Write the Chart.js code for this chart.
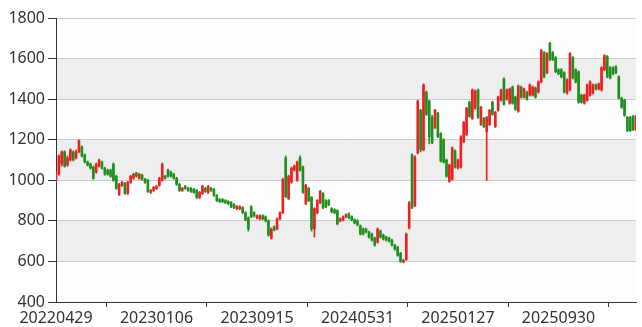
<!DOCTYPE html>
<html>
<head>
<meta charset="utf-8">
<script src="https://cdn.jsdelivr.net/npm/chart.js@4/dist/chart.umd.min.js"></script>
<style>
  html, body { margin: 0; padding: 0; background: #fff; }
  #wrap { width: 642px; height: 327px; }
</style>
</head>
<body>
<div id="wrap"><canvas id="kChart"></canvas></div>
<script>
// weekly bars, last trading day of each week
const dates = [
  '20220429','20220506','20220513','20220520','20220527','20220602','20220610','20220617','20220624','20220701',
  '20220708','20220715','20220722','20220729','20220805','20220812','20220819','20220826','20220902','20220909',
  '20220916','20220923','20220930','20221014','20221021','20221028','20221104','20221111','20221118','20221125',
  '20221202','20221209','20221216','20221223','20221230','20230106','20230113','20230120','20230203','20230210',
  '20230217','20230224','20230303','20230310','20230317','20230324','20230331','20230407','20230414','20230421',
  '20230428','20230505','20230512','20230519','20230526','20230602','20230609','20230616','20230621','20230630',
  '20230707','20230714','20230721','20230728','20230804','20230811','20230818','20230825','20230901','20230908',
  '20230915','20230922','20230928','20231013','20231020','20231027','20231103','20231110','20231117','20231124',
  '20231201','20231208','20231215','20231222','20231229','20240105','20240112','20240119','20240126','20240202',
  '20240208','20240223','20240301','20240308','20240315','20240322','20240329','20240403','20240412','20240419',
  '20240426','20240430','20240510','20240517','20240524','20240531','20240607','20240614','20240621','20240628',
  '20240705','20240712','20240719','20240726','20240802','20240809','20240816','20240823','20240830','20240906',
  '20240913','20240920','20240927','20240930','20241011','20241018','20241025','20241101','20241108','20241115',
  '20241122','20241129','20241206','20241213','20241220','20241227','20250103','20250110','20250117','20250124',
  '20250127','20250207','20250214','20250221','20250228','20250307','20250314','20250321','20250328','20250403',
  '20250411','20250418','20250425','20250430','20250509','20250516','20250523','20250530','20250606','20250613',
  '20250620','20250627','20250704','20250711','20250718','20250725','20250801','20250808','20250815','20250822',
  '20250829','20250905','20250912','20250919','20250926','20250930','20251010','20251017','20251024','20251031',
  '20251107','20251114','20251121','20251128','20251205','20251212','20251219','20251226','20251231','20260109',
  '20260116','20260123','20260130','20260206','20260213','20260227','20260306','20260313','20260320','20260327',
  '20260403','20260410','20260417'
];

const opens = [
  998,1030,1080,1140,1075,1100,1140,1110,1140,1165, 1125,1090,1080,1065,1040,1070,1090,1060,1050,1050,
  1080,1020,930,975,985,935,990,1010,1035,1010, 1025,1005,1000,940,950,960,975,1000,1020,1050,
  1040,1030,1010,980,950,970,960,960,955,950, 915,935,960,940,960,955,925,905,905,900,
  895,890,880,860,860,865,840,815,870,840, 815,810,825,820,800,715,770,760,810,840,
  1110,910,990,1050,1000,1110,1065,885,960,915, 760,840,890,935,900,900,860,855,850,800,
  805,820,835,820,805,800,775,760,760,745, 735,715,695,750,730,720,715,705,680,670,
  640,598,610,765,1125,875,1135,1345,1150,1435, 1390,1310,1260,1330,1230,1200,1100,995,1005,1145,
  1060,1065,1190,1225,1385,1305,1355,1445,1275,1305, 1240,1275,1385,1265,1345,1395,1500,1400,1380,1460,
  1410,1340,1460,1410,1435,1420,1420,1455,1435,1485, 1630,1530,1675,1630,1605,1545,1545,1530,1430,1445,
  1605,1545,1535,1420,1380,1395,1420,1430,1470,1450, 1445,1545,1610,1555,1555,1560,1510,1405,1395,1310,
  1310,1315,1250
];
const closes = [
  1040,1120,1140,1070,1110,1150,1100,1140,1195,1120, 1090,1075,1060,1010,1080,1100,1060,1030,1030,1020,
  1000,960,980,990,935,990,1020,1030,1020,1030, 1005,990,945,950,965,970,1010,1080,1010,1020,
  1020,1010,980,950,960,960,950,945,940,915, 940,970,945,970,950,925,900,895,895,890,
  885,870,865,870,870,840,805,760,820,825, 825,825,810,800,730,760,755,810,840,1005,
  920,1020,1060,1070,1090,1050,940,975,900,760, 860,900,945,865,870,880,845,840,785,810,
  820,830,815,805,790,780,735,735,745,720, 705,680,760,720,710,705,700,680,660,630,
  600,605,735,890,865,1115,1390,1150,1470,1325, 1215,1185,1345,1215,1095,1090,1020,1075,1160,1065,
  1100,1215,1285,1355,1315,1445,1440,1310,1360,1265, 1310,1345,1325,1335,1410,1445,1375,1445,1450,1380,
  1350,1465,1410,1450,1400,1470,1460,1410,1485,1640, 1510,1625,1595,1595,1535,1525,1510,1435,1495,1625,
  1505,1485,1385,1385,1420,1470,1485,1470,1450,1475, 1555,1615,1510,1505,1525,1530,1405,1360,1320,1245,
  1245,1250,1315
];
const lows = [
  990,1025,1070,1065,1070,1095,1095,1105,1135,1115, 1085,1070,1055,1005,1035,1065,1055,1025,1025,1015,
  995,955,925,970,930,930,985,1005,1015,1005, 1000,985,940,935,945,955,970,995,1005,1015,
  1015,1005,975,945,945,955,945,940,935,910, 910,930,940,935,945,920,895,890,890,885,
  880,865,860,855,855,835,800,750,815,820, 810,805,805,795,725,710,750,755,805,835,
  915,905,985,1045,995,1045,935,880,895,750, 720,835,885,860,865,875,840,835,780,795,
  800,815,810,800,785,775,730,730,740,715, 700,675,690,715,705,700,695,675,655,625,
  595,593,605,760,860,870,1130,1140,1145,1320, 1180,1180,1255,1210,1090,1085,1015,990,1000,1060,
  1055,1060,1185,1220,1310,1300,1350,1305,1270,1260, 1000,1270,1320,1260,1340,1390,1370,1395,1375,1375,
  1345,1335,1405,1405,1395,1415,1415,1405,1430,1480, 1505,1525,1590,1590,1530,1520,1505,1430,1425,1440,
  1500,1480,1380,1380,1375,1390,1415,1425,1445,1445, 1440,1540,1505,1500,1520,1525,1400,1355,1315,1240,
  1240,1245,1245
];
const highs = [
  1045,1125,1145,1145,1120,1155,1145,1150,1200,1170, 1130,1095,1085,1070,1085,1105,1095,1065,1055,1055,
  1085,1025,985,995,990,995,1025,1035,1040,1035, 1030,1010,1005,955,970,975,1015,1085,1025,1055,
  1045,1035,1015,985,965,975,965,965,960,955, 945,975,965,975,965,960,930,910,910,905,
  900,895,885,875,875,870,845,820,875,845, 830,830,830,825,805,765,775,815,845,1010,
  1120,1025,1065,1075,1095,1120,1070,980,965,920, 865,905,950,940,905,905,865,860,855,815,
  825,835,840,825,810,805,780,765,765,750, 740,720,765,755,735,725,720,710,685,675,
  645,610,740,895,1130,1120,1395,1350,1475,1440, 1395,1320,1350,1335,1235,1205,1105,1080,1165,1150,
  1105,1220,1290,1360,1390,1450,1445,1450,1365,1310, 1315,1350,1390,1340,1415,1450,1505,1450,1455,1465,
  1415,1470,1465,1455,1440,1475,1465,1460,1490,1645, 1635,1630,1680,1635,1610,1550,1550,1535,1500,1630,
  1610,1550,1540,1425,1425,1475,1490,1475,1475,1480, 1560,1620,1615,1560,1560,1565,1515,1410,1400,1315,
  1315,1320,1320
];

const yTicks = [400, 600, 800, 1000, 1200, 1400, 1600, 1800];
const labelEvery = 35;

const upColor = '#eb2222';
const downColor = '#1f8f1f';

function candleColor(ctx) {
    const i = ctx.dataIndex;
    return closes[i] >= opens[i] ? upColor : downColor;
}

// alternating horizontal bands behind the grid
const splitArea = {
    id: 'splitArea',
    beforeDraw(chart) {
        const c = chart.ctx;
        const area = chart.chartArea;
        const y = chart.scales.y;
        c.save();
        for (let k = 0; k < yTicks.length - 1; k++) {
            const top = y.getPixelForValue(yTicks[k + 1]);
            const bottom = y.getPixelForValue(yTicks[k]);
            c.fillStyle = k % 2 === 0 ? 'rgba(250,250,250,0.3)' : 'rgba(200,200,200,0.3)';
            c.fillRect(area.left, top, area.right - area.left, bottom - top);
        }
        c.restore();
    }
};

Chart.defaults.font.family = "'Noto Sans', sans-serif";
Chart.defaults.font.size = 16;
Chart.defaults.color = '#333';

const ctx = document.getElementById('kChart').getContext('2d');
const kChart = new Chart(ctx, {
    type: 'bar',
    data: {
        labels: dates,
        datasets: [
            {
                label: 'wick',
                data: lows.map((l, i) => [l, highs[i]]),
                backgroundColor: candleColor,
                barThickness: 1,
                grouped: false,
                borderWidth: 0
            },
            {
                label: 'body',
                data: opens.map((o, i) => [o, closes[i]]),
                backgroundColor: candleColor,
                barThickness: 2,
                grouped: false,
                borderWidth: 0
            }
        ]
    },
    options: {
        responsive: true,
        maintainAspectRatio: false,
        animation: false,
        layout: { padding: { top: 18, right: 6, left: 0, bottom: 0 } },
        plugins: {
            legend: { display: false },
            tooltip: { enabled: false }
        },
        scales: {
            x: {
                type: 'category',
                offset: false,
                grid: {
                    display: true,
                    drawOnChartArea: false,
                    tickLength: 5,
                    tickColor: '#333'
                },
                border: { color: '#333' },
                ticks: {
                    autoSkip: false,
                    maxRotation: 0,
                    align: 'center',
                    padding: 2,
                    color: '#333',
                    callback: function (val, idx) {
                        return idx % labelEvery === 0 ? this.getLabelForValue(val) : null;
                    }
                },
                afterFit: function (scale) { scale.height = 25; }
            },
            y: {
                min: 400,
                max: 1800,
                grid: {
                    color: '#cccccc',
                    tickLength: 8,
                    tickColor: '#333'
                },
                border: { color: '#333' },
                ticks: {
                    stepSize: 200,
                    padding: 3,
                    color: '#333',
                    callback: v => String(v)
                },
                afterFit: function (scale) { scale.width = 56; }
            }
        }
    },
    plugins: [splitArea]
});
</script>
</body>
</html>
